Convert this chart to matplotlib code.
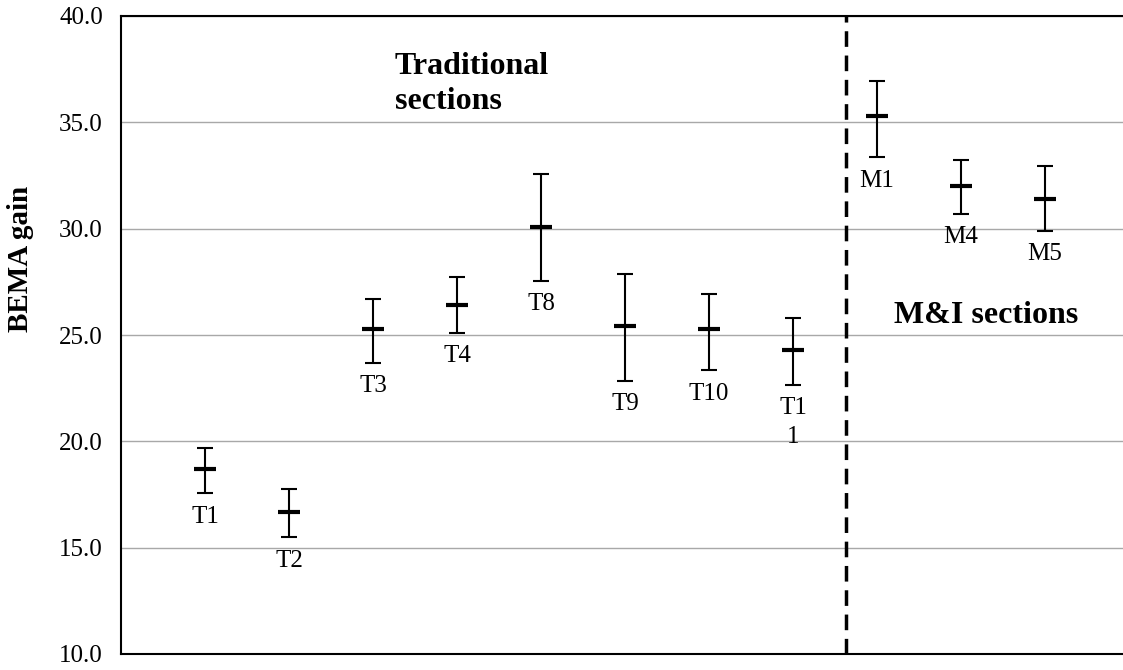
import matplotlib
matplotlib.use("Agg")
import matplotlib.pyplot as plt

plt.rcParams["font.family"] = ["Liberation Serif", "DejaVu Serif"]

sections = ["T1", "T2", "T3", "T4", "T8", "T9", "T10", "T1\n1", "M1", "M4", "M5"]
gain = [18.7, 16.7, 25.3, 26.4, 30.1, 25.4, 25.3, 24.3, 35.3, 32.0, 31.4]
upper = [19.7, 17.75, 26.7, 27.75, 32.55, 27.85, 26.95, 25.8, 36.95, 33.25, 32.95]
lower = [17.55, 15.5, 23.7, 25.1, 27.55, 22.85, 23.35, 22.65, 33.35, 30.7, 29.9]
yticks = [10.0, 15.0, 20.0, 25.0, 30.0, 35.0, 40.0]

x = list(range(1, len(sections) + 1))
err_lo = [g - l for g, l in zip(gain, lower)]
err_hi = [u - g for g, u in zip(gain, upper)]

fig = plt.figure(figsize=(11.23, 6.70), dpi=100)
# plot area runs past the right edge, like the original
ax = fig.add_axes([121 / 1123, 16 / 670, 1008 / 1123, 638 / 670])

ax.errorbar(x, gain, yerr=[err_lo, err_hi], fmt="none", ecolor="black",
            elinewidth=1.5, capsize=5.8, capthick=1.5, zorder=3)
ax.plot(x, gain, linestyle="none", marker="_", markersize=16,
        markeredgewidth=3, color="black", zorder=4)

# labels below each bar
for xi, lo, name in zip(x, lower, sections):
    ax.annotate(name, (xi, lo), xytext=(0, -9), textcoords="offset points",
                ha="center", va="top", fontsize=18, linespacing=1.4)

# divider between traditional and M&I
ax.axvline(8.63, color="black", lw=2.5, linestyle=(0, (4.5, 2.5)), zorder=2)

ax.text(3.26, 36.8, "Traditional\nsections", fontsize=23, fontweight="bold",
        ha="left", va="center", linespacing=1.3)
ax.text(10.3, 25.9, "M&I sections", fontsize=23, fontweight="bold",
        ha="center", va="center")

ax.set_xlim(0, 1008 / 84)
ax.set_ylim(10, 40)
ax.set_xticks([])
ax.set_yticks(yticks)
ax.set_yticklabels([f"{v:.1f}" for v in yticks], fontsize=18)
ax.tick_params(axis="y", length=0, pad=13)
ax.yaxis.grid(True, color="#a8a8a8", lw=1)
ax.set_axisbelow(True)
for s in ax.spines.values():
    s.set_linewidth(1.5)
    s.set_color("black")

ax.set_ylabel("BEMA gain", fontsize=21, fontweight="bold")
ax.yaxis.set_label_coords(-0.086, 0.62)

fig.savefig("out.png", dpi=100)
